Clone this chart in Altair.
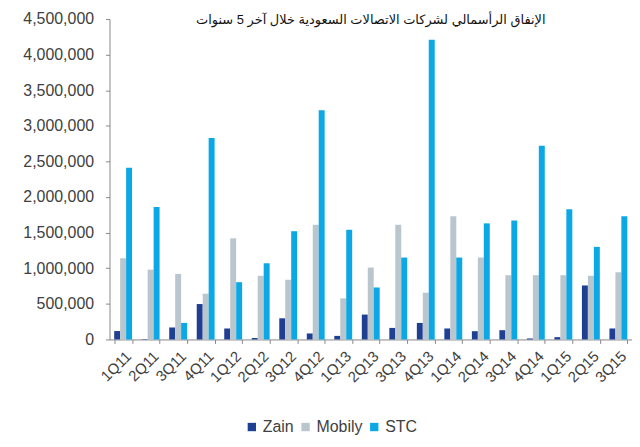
import altair as alt
import pandas as pd

# quarterly capex
quarters = ["1Q11", "2Q11", "3Q11", "4Q11", "1Q12", "2Q12", "3Q12", "4Q12", "1Q13", "2Q13",
            "3Q13", "4Q13", "1Q14", "2Q14", "3Q14", "4Q14", "1Q15", "2Q15", "3Q15"]
zain = [118000, 5000, 168000, 497000, 154000, 20000, 297000, 84000, 50000, 349000,
        162000, 232000, 154000, 116000, 130000, 14000, 32000, 758000, 154000]
mobily = [1140000, 980000, 920000, 642000, 1420000, 894000, 838000, 1610000, 577000, 1010000,
          1610000, 656000, 1730000, 1150000, 902000, 902000, 902000, 894000, 944000]
stc = [2410000, 1860000, 232000, 2830000, 804000, 1070000, 1520000, 3220000, 1540000, 730000,
       1150000, 4210000, 1150000, 1630000, 1670000, 2720000, 1830000, 1300000, 1730000]

companies = ["Zain", "Mobily", "STC"]
colors = ["#1f3f93", "#bac6ce", "#0ca8e6"]

rows = []
for i, q in enumerate(quarters):
    for name, series in zip(companies, [zain, mobily, stc]):
        rows.append({"quarter": q, "company": name, "value": series[i]})
df = pd.DataFrame(rows)

font = "Liberation Sans, DejaVu Sans, Arial"
title = "الإنفاق الرأسمالي لشركات الاتصالات السعودية خلال آخر 5 سنوات"

chart = (
    alt.Chart(df)
    .mark_bar()
    .encode(
        x=alt.X("quarter:N", sort=quarters, title=None,
                scale=alt.Scale(paddingInner=0.35, paddingOuter=0.17),
                axis=alt.Axis(labelAngle=-45, labelFontSize=15, labelColor="#404040",
                              domainColor="#888888", tickColor="#888888", tickSize=4,
                              tickBand="extent", labelPadding=5)),
        xOffset=alt.XOffset("company:N", scale=alt.Scale(domain=companies, paddingInner=0)),
        y=alt.Y("value:Q", title=None,
                scale=alt.Scale(domain=[0, 4500000], nice=False),
                axis=alt.Axis(values=list(range(0, 4500001, 500000)), format=",d", grid=False,
                              labelFontSize=16, labelColor="#404040", domainColor="#888888",
                              tickColor="#888888", tickSize=4, labelPadding=12)),
        color=alt.Color("company:N", scale=alt.Scale(domain=companies, range=colors),
                        legend=alt.Legend(title=None, orient="none", direction="horizontal",
                                          legendX=135, legendY=402, symbolType="square",
                                          symbolSize=70, labelFontSize=16, labelColor="#404040",
                                          columnPadding=3, labelOffset=3, symbolOffset=0,
                                          padding=0)),
    )
    .properties(
        width=525, height=322,
        title=alt.Title(title, font=font, fontSize=13, fontWeight="normal", color="#111111",
                        offset=-16, anchor="middle"),
        padding={"left": 14, "top": 2, "right": 0, "bottom": 5},
    )
    .configure(font=font)
    .configure_view(stroke=None)
)

chart.save("out.html", embed_options={"renderer": "svg", "actions": False})
